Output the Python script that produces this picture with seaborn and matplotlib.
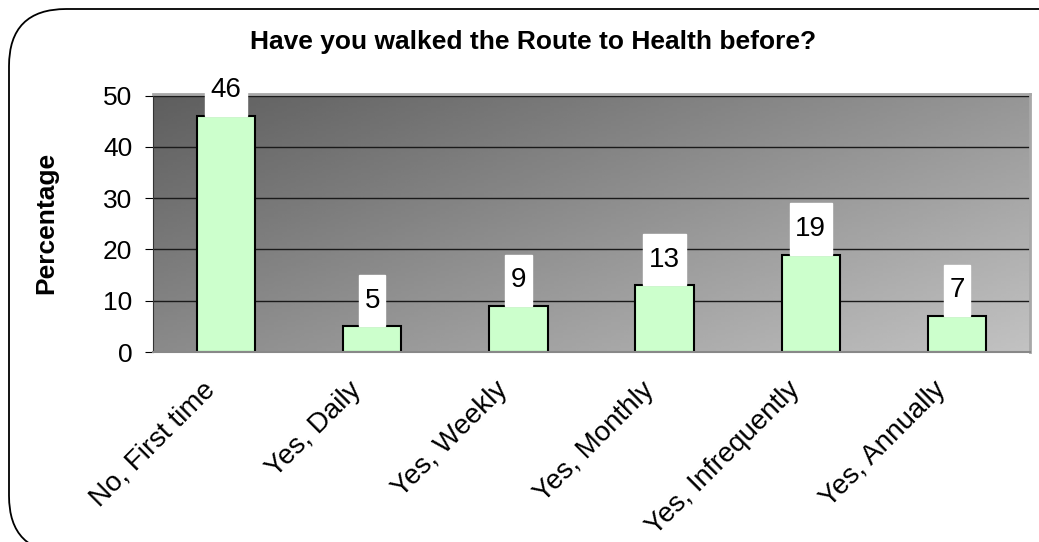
import numpy as np
import pandas as pd
import seaborn as sns
import matplotlib.pyplot as plt
import matplotlib.transforms as mtransforms
from matplotlib.patches import FancyBboxPatch

# chart data
categories = ['No, First time', 'Yes, Daily', 'Yes, Weekly',
              'Yes, Monthly', 'Yes, Infrequently', 'Yes, Annually']
percentages = [46, 5, 9, 13, 19, 7]

df = pd.DataFrame({'answer': categories, 'pct': percentages})

sns.set_style('white')
plt.rcParams['font.family'] = ['Liberation Sans', 'DejaVu Sans']
plt.rcParams['text.color'] = 'black'
plt.rcParams['xtick.color'] = 'black'
plt.rcParams['ytick.color'] = 'black'
plt.rcParams['axes.labelcolor'] = 'black'

fig = plt.figure(figsize=(10.39, 5.42), dpi=100)
ax = fig.add_axes([153 / 1039, 1 - 352 / 542, (1030 - 153) / 1039, (352 - 94) / 542])

# rounded outer border (runs off the right and bottom edges like the original)
border = FancyBboxPatch((9 / 1039, -0.02), 1.05, 1 - 9 / 542 + 0.02,
                        boxstyle='round,pad=0,rounding_size=0.055',
                        transform=fig.transFigure, fill=False,
                        edgecolor='black', linewidth=1.3,
                        mutation_aspect=1039 / 542)
fig.patches.append(border)

# diagonal grey gradient behind the bars (dark top-left, light bottom-right)
gx, gy = np.meshgrid(np.linspace(0, 1, 200), np.linspace(0, 1, 100))
grad = 94 + 56 * gx + 44 * gy
ax.imshow(grad, cmap='gray', vmin=0, vmax=255, aspect='auto', origin='upper',
          extent=(-0.5, len(categories) - 0.5, 0, 50.3), zorder=0)

sns.barplot(data=df, x='answer', y='pct', ax=ax, color='#ccffcc',
            saturation=1, width=0.4, edgecolor='black', linewidth=1.5, zorder=2)

# white label boxes sitting on top of each bar
for i, v in enumerate(percentages):
    w = 0.11 * len(str(v)) + 0.07
    ax.bar(i, 10, bottom=v, width=w, color='white', zorder=3, clip_on=False)
    ax.text(i, v + 5, str(v), ha='center', va='center', fontsize=20, zorder=4,
            clip_on=False)

ax.set_xlim(-0.5, len(categories) - 0.5)
ax.set_ylim(0, 50.3)
ax.set_yticks(range(0, 51, 10))
ax.yaxis.grid(True, color='#1a1a1a', linewidth=1)
ax.set_axisbelow(True)

ax.set_xticks(np.arange(-0.5, len(categories), 1), minor=True)
ax.tick_params(axis='x', which='major', length=0, pad=12)
ax.tick_params(axis='x', which='minor', length=7, color='#333333', direction='out', width=1.2)
ax.tick_params(axis='y', length=6, color='black', direction='out', labelsize=19, pad=9, left=True)
ax.set_xticks(range(len(categories)))
ax.set_xticklabels(categories, rotation=45, ha='right', rotation_mode='anchor', fontsize=20)
shift = mtransforms.ScaledTranslation(-0.24, -0.08, fig.dpi_scale_trans)
for lbl in ax.get_xticklabels():
    lbl.set_transform(lbl.get_transform() + shift)

for side in ['top', 'right']:
    ax.spines[side].set_color('#a8a8a8')
    ax.spines[side].set_linewidth(2)
ax.spines['left'].set_color('#333333')
ax.spines['bottom'].set_color('#888888')
ax.spines['bottom'].set_linewidth(1.5)

ax.set_xlabel('')
ax.set_ylabel('Percentage', fontsize=19, fontweight='bold')
ax.yaxis.set_label_coords(-95 / 877, 0.5)
fig.text(0.513, 1 - 42 / 542, 'Have you walked the Route to Health before?',
         ha='center', va='center', fontsize=19, fontweight='bold')

fig.savefig('out.png', dpi=100)
